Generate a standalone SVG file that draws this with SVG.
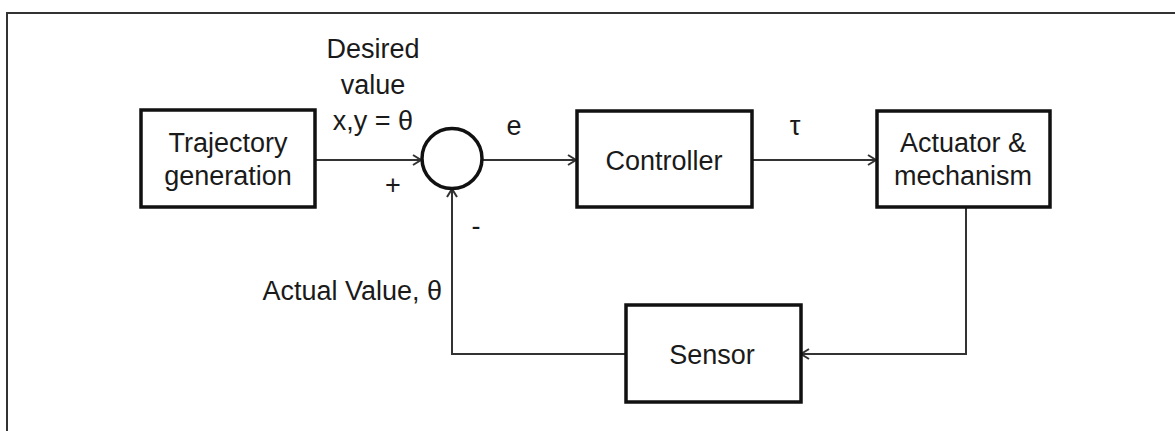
<svg xmlns="http://www.w3.org/2000/svg" width="1175" height="431" viewBox="0 0 1175 431">
<style>
.box{fill:#fff;stroke:#111;stroke-width:3.5}
.sum{fill:#fff;stroke:#111;stroke-width:3.5}
.conn{fill:none;stroke:#333;stroke-width:2}
.frame{fill:none;stroke:#333;stroke-width:2}
text{font-family:"Liberation Sans",Arial,sans-serif;font-size:27px;fill:#1a1a1a;text-anchor:middle}
</style>
<defs>
<marker id="arr" markerWidth="12" markerHeight="12" refX="10" refY="6" orient="auto" markerUnits="userSpaceOnUse">
<path d="M2,1 L10,6 L2,11" fill="none" stroke="#333" stroke-width="2"/>
</marker>
</defs>
<rect width="1175" height="431" fill="#fff"/>
<path class="frame" d="M7,431 L7,13 L1175,13"/>
<g id="connectors">
<path class="conn" d="M315,160 L421,160" marker-end="url(#arr)"/>
<path class="conn" d="M482,160 L576,160" marker-end="url(#arr)"/>
<path class="conn" d="M752,160 L876,160" marker-end="url(#arr)"/>
<path class="conn" d="M966,207 L966,354 L801,354" marker-end="url(#arr)"/>
<path class="conn" d="M626,354 L452,354 L452,189" marker-end="url(#arr)"/>
</g>
<g id="trajectory">
<rect class="box" x="141" y="110" width="174" height="97"/>
<text x="228" y="152">Trajectory</text>
<text x="228" y="185">generation</text>
</g>
<g id="summing">
<circle class="sum" cx="452" cy="158.5" r="30"/>
</g>
<g id="controller">
<rect class="box" x="577" y="111" width="175" height="96"/>
<text x="664" y="170">Controller</text>
</g>
<g id="actuator">
<rect class="box" x="877" y="111" width="173" height="96"/>
<text x="963" y="152">Actuator &amp;</text>
<text x="963" y="185">mechanism</text>
</g>
<g id="sensor">
<rect class="box" x="626" y="305" width="175" height="97"/>
<text x="712" y="364">Sensor</text>
</g>
<g id="labels">
<text x="373" y="58">Desired</text>
<text x="373" y="94">value</text>
<text x="373" y="130">x,y = θ</text>
<text x="393" y="194">+</text>
<text x="476" y="235">-</text>
<text x="514" y="135">e</text>
<text x="795" y="135">τ</text>
<text x="442" y="300" style="text-anchor:end">Actual Value, θ</text>
</g>
</svg>
